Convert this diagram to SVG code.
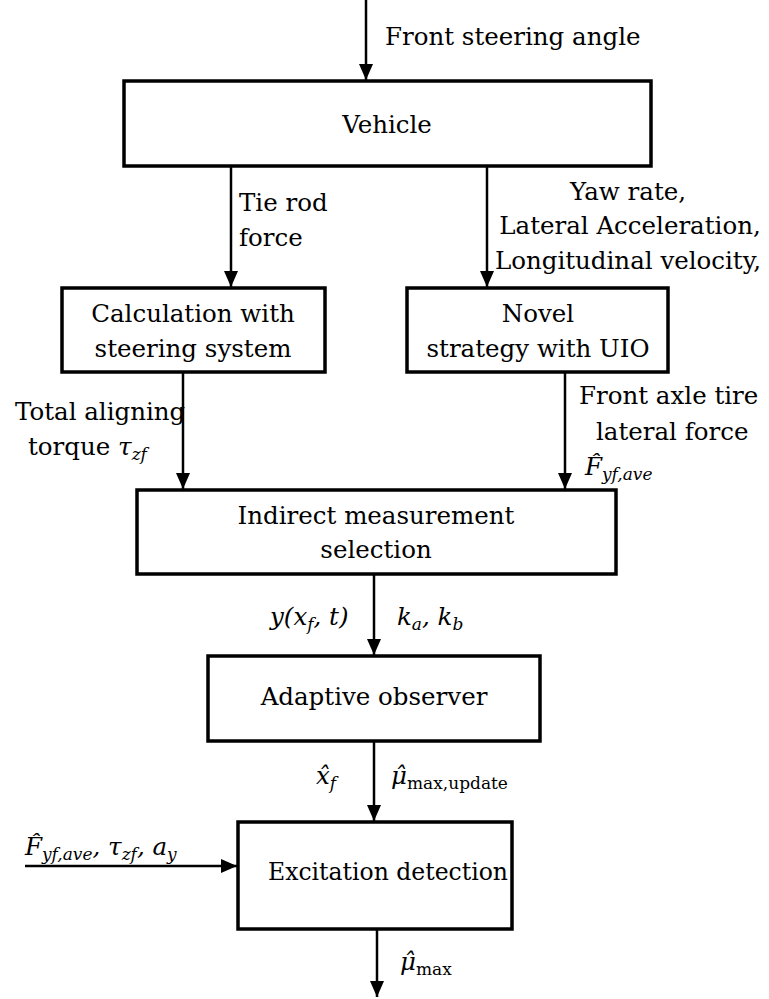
<svg xmlns="http://www.w3.org/2000/svg" width="769" height="999" viewBox="0 0 769 999">
<style>
.box{fill:#fff;stroke:#000;stroke-width:3.5}
.ln{stroke:#000;stroke-width:2.5;fill:none}
text{font-family:"DejaVu Serif",serif;font-size:24.5px;fill:#000}
.c{text-anchor:middle}
.i{font-style:italic}
.s{font-size:17px}
</style>
<defs>
<marker id="ah" viewBox="0 0 16 14" refX="16" refY="7" markerWidth="16" markerHeight="14" markerUnits="userSpaceOnUse" orient="auto">
<path d="M0,0 L16,7 L0,14 Z" fill="#000"/>
</marker>
</defs>
<g id="connectors">
<line class="ln" x1="366" y1="0" x2="366" y2="80" marker-end="url(#ah)"/>
<line class="ln" x1="231" y1="167" x2="231" y2="287" marker-end="url(#ah)"/>
<line class="ln" x1="487" y1="167" x2="487" y2="287" marker-end="url(#ah)"/>
<line class="ln" x1="183" y1="373" x2="183" y2="489" marker-end="url(#ah)"/>
<line class="ln" x1="565" y1="373" x2="565" y2="489" marker-end="url(#ah)"/>
<line class="ln" x1="374" y1="575" x2="374" y2="655" marker-end="url(#ah)"/>
<line class="ln" x1="374" y1="742" x2="374" y2="821" marker-end="url(#ah)"/>
<line class="ln" x1="25" y1="866" x2="237" y2="866" marker-end="url(#ah)"/>
<line class="ln" x1="377" y1="930" x2="377" y2="997" marker-end="url(#ah)"/>
<text x="385" y="45">Front steering angle</text>
<text x="239" y="211">Tie rod</text>
<text x="239" y="246">force</text>
<text class="c" x="628" y="200">Yaw rate,</text>
<text class="c" x="630" y="234">Lateral Acceleration,</text>
<text class="c" x="628" y="269">Longitudinal velocity,</text>
<text x="15" y="420">Total aligning</text>
<text x="28" y="455">torque <tspan class="i">τ</tspan><tspan class="i s" dy="5">zf</tspan></text>
<text x="579" y="404">Front axle tire</text>
<text x="596" y="440">lateral force</text>
<text x="585" y="475" class="i">F̂<tspan class="s" dy="5">yf,ave</tspan></text>
<text x="270" y="625" class="i">y(x<tspan class="s" dy="5">f</tspan><tspan dy="-5">, t)</tspan></text>
<text x="397" y="625" class="i">k<tspan class="s" dy="5">a</tspan><tspan dy="-5">, k</tspan><tspan class="s" dy="5">b</tspan></text>
<text x="316" y="784" class="i">x̂<tspan class="s" dy="5">f</tspan></text>
<text x="391" y="784" class="i">μ̂<tspan class="s" dy="5" font-style="normal">max,update</tspan></text>
<text x="25" y="855" class="i">F̂<tspan class="s" dy="5">yf,ave</tspan><tspan dy="-5">, τ</tspan><tspan class="s" dy="5">zf</tspan><tspan dy="-5">, a</tspan><tspan class="s" dy="5">y</tspan></text>
<text x="400" y="970" class="i">μ̂<tspan class="s" dy="5" font-style="normal">max</tspan></text>
</g>
<g id="vehicle">
<rect class="box" x="124" y="81" width="527" height="85"/>
<text class="c" x="387" y="133">Vehicle</text>
</g>
<g id="calculation">
<rect class="box" x="62" y="288" width="263" height="84"/>
<text class="c" x="193" y="322">Calculation with</text>
<text class="c" x="193" y="357">steering system</text>
</g>
<g id="novel">
<rect class="box" x="407" y="288" width="261" height="84"/>
<text class="c" x="538" y="322">Novel</text>
<text class="c" x="538" y="357">strategy with UIO</text>
</g>
<g id="indirect">
<rect class="box" x="137" y="490" width="479" height="84"/>
<text class="c" x="376" y="524">Indirect measurement</text>
<text class="c" x="376" y="558">selection</text>
</g>
<g id="adaptive">
<rect class="box" x="208" y="656" width="332" height="85"/>
<text class="c" x="374" y="705">Adaptive observer</text>
</g>
<g id="excitation">
<rect class="box" x="238" y="822" width="274" height="107"/>
<text x="268" y="880" textLength="240" lengthAdjust="spacingAndGlyphs">Excitation detection</text>
</g>
</svg>
